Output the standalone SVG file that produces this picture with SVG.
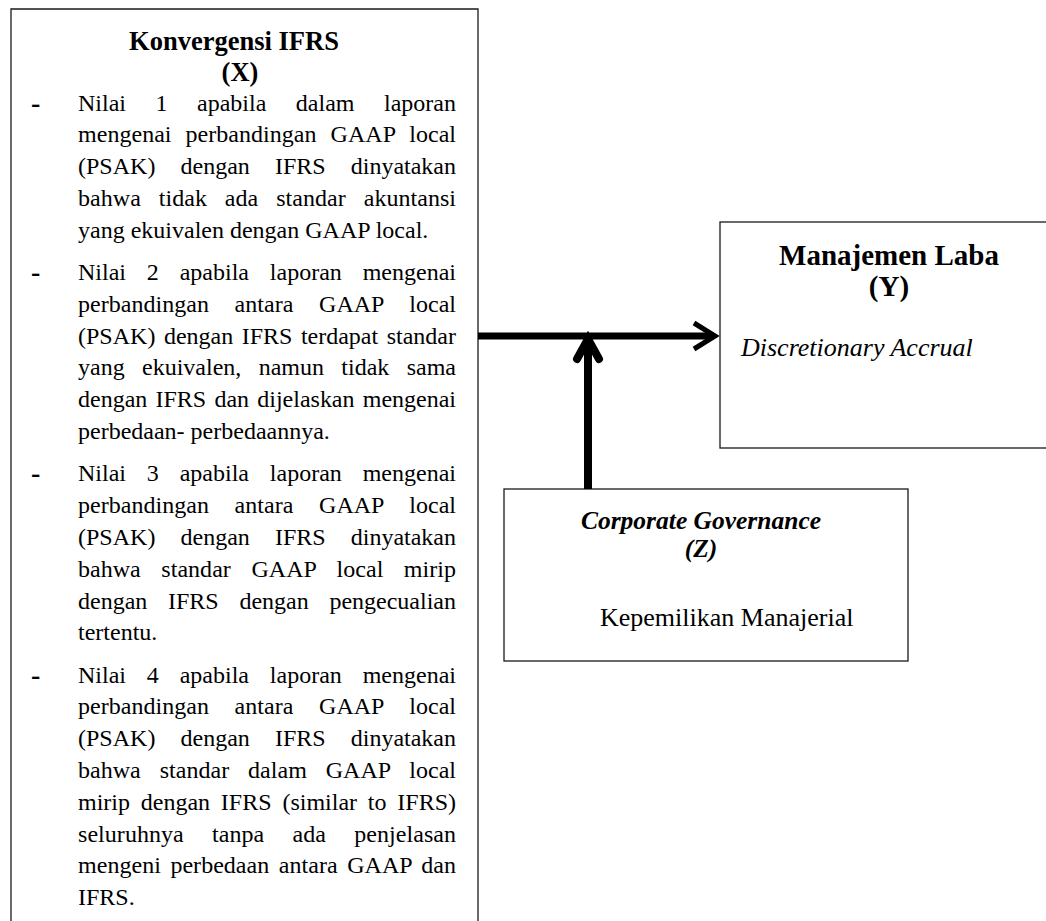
<svg xmlns="http://www.w3.org/2000/svg" width="1046" height="921" viewBox="0 0 1046 921">
<style>
.box{fill:#fff;stroke:#1a1a1a;stroke-width:1.3}
.t{font-family:"Liberation Serif","Times New Roman",serif;fill:#000}
.body{font-size:24px}
.dash{font-size:28px;font-weight:bold}
.ttl{font-size:26.5px;font-weight:bold;text-anchor:middle}
.ttly{font-size:29px;font-weight:bold;text-anchor:middle}
.sub{font-size:26px}
.conn{stroke:#000;fill:none}
</style>
<rect width="1046" height="921" fill="#fff"/>
<g id="node-x">
<path class="box" d="M11,930 V9 H478 V930"/>
<text class="t ttl" x="234" y="50">Konvergensi IFRS</text>
<text class="t ttl" x="240" y="81">(X)</text>
<g class="t body">
<text class="dash" x="31" y="111.5">-</text>
<text x="78" y="110.5" word-spacing="23.5" textLength="378" lengthAdjust="spacing">Nilai 1 apabila dalam laporan</text>
<text x="78" y="142.3" word-spacing="8" textLength="378" lengthAdjust="spacing">mengenai perbandingan GAAP local</text>
<text x="78" y="174.1" word-spacing="19.1" textLength="378" lengthAdjust="spacing">(PSAK) dengan IFRS dinyatakan</text>
<text x="78" y="205.9" word-spacing="11.85" textLength="378" lengthAdjust="spacing">bahwa tidak ada standar akuntansi</text>
<text x="78" y="237.7">yang ekuivalen dengan GAAP local.</text>
<text class="dash" x="31" y="281">-</text>
<text x="78" y="280" word-spacing="14.85" textLength="378" lengthAdjust="spacing">Nilai 2 apabila laporan mengenai</text>
<text x="78" y="311.8" word-spacing="19.6" textLength="378" lengthAdjust="spacing">perbandingan antara GAAP local</text>
<text x="78" y="343.6" word-spacing="2.5" textLength="378" lengthAdjust="spacing">(PSAK) dengan IFRS terdapat standar</text>
<text x="78" y="375.4" word-spacing="11.35" textLength="378" lengthAdjust="spacing">yang ekuivalen, namun tidak sama</text>
<text x="78" y="407.2" word-spacing="2.2" textLength="378" lengthAdjust="spacing">dengan IFRS dan dijelaskan mengenai</text>
<text x="78" y="439">perbedaan- perbedaannya.</text>
<text class="dash" x="31" y="482.3">-</text>
<text x="78" y="481.3" word-spacing="14.85" textLength="378" lengthAdjust="spacing">Nilai 3 apabila laporan mengenai</text>
<text x="78" y="513.1" word-spacing="19.6" textLength="378" lengthAdjust="spacing">perbandingan antara GAAP local</text>
<text x="78" y="544.9" word-spacing="19.1" textLength="378" lengthAdjust="spacing">(PSAK) dengan IFRS dinyatakan</text>
<text x="78" y="576.7" word-spacing="14.5" textLength="378" lengthAdjust="spacing">bahwa standar GAAP local mirip</text>
<text x="78" y="608.5" word-spacing="14.7" textLength="378" lengthAdjust="spacing">dengan IFRS dengan pengecualian</text>
<text x="78" y="640.3">tertentu.</text>
<text class="dash" x="31" y="683.6">-</text>
<text x="78" y="682.6" word-spacing="14.85" textLength="378" lengthAdjust="spacing">Nilai 4 apabila laporan mengenai</text>
<text x="78" y="714.4" word-spacing="19.6" textLength="378" lengthAdjust="spacing">perbandingan antara GAAP local</text>
<text x="78" y="746.2" word-spacing="19.1" textLength="378" lengthAdjust="spacing">(PSAK) dengan IFRS dinyatakan</text>
<text x="78" y="778" word-spacing="12.85" textLength="378" lengthAdjust="spacing">bahwa standar dalam GAAP local</text>
<text x="78" y="809.8" word-spacing="4.8" textLength="378" lengthAdjust="spacing">mirip dengan IFRS (similar to IFRS)</text>
<text x="78" y="841.6" word-spacing="22.2" textLength="378" lengthAdjust="spacing">seluruhnya tanpa ada penjelasan</text>
<text x="78" y="873.4" word-spacing="3.5" textLength="378" lengthAdjust="spacing">mengeni perbedaan antara GAAP dan</text>
<text x="78" y="905.2">IFRS.</text>
</g>
</g>
<g id="node-y">
<rect class="box" x="720" y="222" width="340" height="226"/>
<text class="t ttly" x="889" y="265">Manajemen Laba</text>
<text class="t ttly" x="889" y="296">(Y)</text>
<text class="t sub" x="741" y="356" font-style="italic">Discretionary Accrual</text>
</g>
<g id="node-z">
<rect class="box" x="504" y="489" width="404" height="172"/>
<text class="t" x="701" y="529" font-size="25.5" font-weight="bold" font-style="italic" text-anchor="middle">Corporate Governance</text>
<text class="t" x="701" y="557" font-size="25.5" font-weight="bold" font-style="italic" text-anchor="middle">(Z)</text>
<text class="t sub" x="600" y="626">Kepemilikan Manajerial</text>
</g>
<g id="connectors">
<line class="conn" x1="478" y1="336" x2="714" y2="336" stroke-width="7"/>
<path class="conn" d="M694,323 L715,336 L694,349" stroke-width="5" stroke-linejoin="miter"/>
<line class="conn" x1="588" y1="489" x2="588" y2="342" stroke-width="8"/>
<path class="conn" d="M577,359 L588,339 L599,359" stroke-width="8" stroke-linejoin="miter" stroke-linecap="round"/>
</g>
</svg>
